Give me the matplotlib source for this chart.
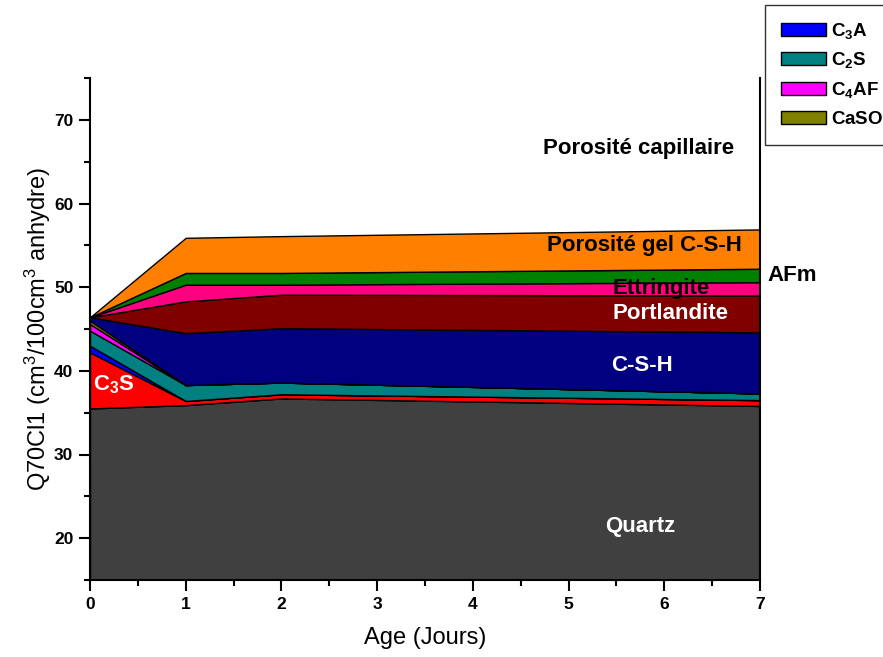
import matplotlib
matplotlib.use("Agg")
import matplotlib.pyplot as plt
from matplotlib.ticker import MultipleLocator
from matplotlib.patches import Patch

plt.rcParams['font.family'] = ['Liberation Sans', 'DejaVu Sans']
plt.rcParams['mathtext.fontset'] = 'custom'
plt.rcParams['mathtext.rm'] = 'Liberation Sans'
plt.rcParams['mathtext.it'] = 'Liberation Sans:italic'
plt.rcParams['mathtext.bf'] = 'Liberation Sans:bold'

# Hydration age (days)
age = [0, 1, 2, 7]

# Volume of each phase (cm3 per 100 cm3 anhydrous), stacked bottom to top
quartz      = [35.5, 35.9, 36.7, 35.8]
c3s         = [6.7, 0.5, 0.5, 0.7]
c3a         = [0.8, 0.0, 0.0, 0.0]
c2s         = [1.8, 1.9, 1.4, 0.8]
c4af        = [0.8, 0.0, 0.0, 0.0]
caso4       = [0.4, 0.0, 0.0, 0.0]
csh         = [0.4, 6.2, 6.5, 7.3]
portlandite = [0.0, 3.8, 4.0, 4.4]
ettringite  = [0.0, 2.0, 1.2, 1.6]
afm         = [0.0, 1.4, 1.4, 1.6]
gel_poro    = [0.0, 4.2, 4.4, 4.7]

layers = [quartz, c3s, c3a, c2s, c4af, caso4, csh, portlandite,
          ettringite, afm, gel_poro]
colors = ['#404040', '#FF0000', '#0000FF', '#008080', '#FF00FF', '#808000',
          '#000080', '#800000', '#FF0080', '#008000', '#FF8000']

fig = plt.figure(figsize=(8.83, 6.57), dpi=100)
ax = fig.add_axes([90/883, 1-580/657, 670/883, 502/657])

ax.stackplot(age, *layers, colors=colors, edgecolor='black', linewidth=1.0)

ax.set_xlim(0, 7)
ax.set_ylim(15, 75)
ax.xaxis.set_major_locator(MultipleLocator(1))
ax.xaxis.set_minor_locator(MultipleLocator(0.5))
ax.yaxis.set_major_locator(MultipleLocator(10))
ax.yaxis.set_minor_locator(MultipleLocator(5))
ax.set_yticks([20, 30, 40, 50, 60, 70])
ax.tick_params(which='major', direction='out', length=8, width=1.5,
               labelsize=12.5, pad=4)
ax.tick_params(which='minor', direction='out', length=4, width=1.5)
ax.tick_params(axis='y', right=False, which='both')
for lab in ax.get_xticklabels() + ax.get_yticklabels():
    lab.set_fontweight('bold')

ax.spines['top'].set_visible(False)
for s in ['left', 'bottom', 'right']:
    ax.spines[s].set_linewidth(1.5)

ax.set_xlabel('Age (Jours)', fontsize=17, labelpad=11)
ax.set_ylabel(r'Q70Cl1 (cm$^3$/100cm$^3$ anhydre)', fontsize=17, labelpad=1)

# Phase labels
tk = dict(fontsize=16, fontweight='bold', ha='center', va='center')
ax.text(5.73, 66.6, 'Porosité capillaire', color='black', **tk)
ax.text(5.79, 55.0, 'Porosité gel C-S-H', color='black', **tk)
ax.text(5.97, 49.8, 'Ettringite', color='black', **tk)
ax.text(6.06, 46.9, 'Portlandite', color='white', **tk)
ax.text(5.77, 40.6, 'C-S-H', color='white', **tk)
ax.text(5.75, 21.4, 'Quartz', color='white', **tk)
ax.text(0.25, 38.4, r'C$_\mathbf{3}$S', color='white', **tk)
ax.text(7.34, 51.4, 'AFm', color='black', clip_on=False, **tk)

handles = [Patch(facecolor=c, edgecolor='black', linewidth=1.0)
           for c in ['#0000FF', '#008080', '#FF00FF', '#808000']]
labels = [r'C$_\mathbf{3}$A', r'C$_\mathbf{2}$S', r'C$_\mathbf{4}$AF',
          r'CaSO$_\mathbf{4}$']
leg = fig.legend(handles, labels, loc='upper left',
                 bbox_to_anchor=(765/883, 1-5/657), frameon=True,
                 fancybox=False, borderaxespad=0, borderpad=0.85,
                 handlelength=2.4, handleheight=0.7, handletextpad=0.28,
                 labelspacing=0.5, prop={'weight': 'bold', 'size': 13.5})
leg.get_frame().set_edgecolor('black')
leg.get_frame().set_linewidth(1.0)

fig.savefig('out.png', dpi=100)
